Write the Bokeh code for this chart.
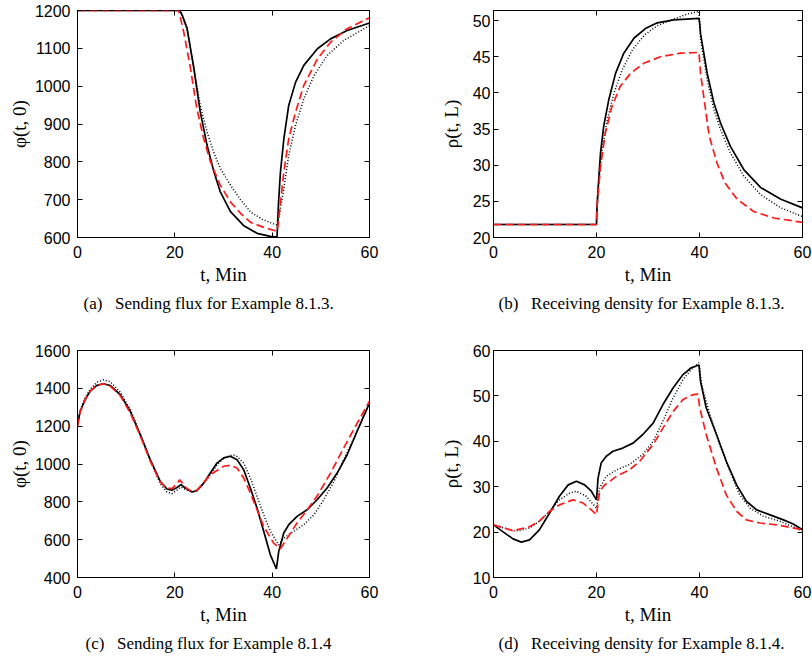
from bokeh.plotting import figure
from bokeh.models import Range1d, FixedTicker, LinearAxis, Title
from bokeh.layouts import column, row
from bokeh.embed import file_html
from bokeh.resources import INLINE

# ---------------- data ----------------
x_ticks = [0, 20, 40, 60]

# (a) Sending flux, Example 8.1.3
a_solid_t = [0, 21, 21.6, 22.5, 23.9, 25.2, 26.6, 28, 29.3, 31.4, 34.1, 36.9, 39.6, 41, 41.3, 41.7, 42.4, 43.4, 44.8, 46.5, 49.3, 52, 55.4, 60]
a_solid_v = [1200, 1200, 1185, 1154, 1048, 934, 845, 775, 722, 669, 632, 611, 603, 601, 690, 773, 861, 949, 1010, 1055, 1099, 1125, 1147, 1167]
a_dot_t = [0, 21.2, 22.5, 23.9, 25.2, 26.6, 28, 29.3, 31.5, 33.5, 35.6, 38, 40.3, 41, 41.2, 42.4, 43.4, 44.8, 46.5, 48.6, 51.3, 54.7, 60]
a_dot_v = [1200, 1200, 1150, 1050, 950, 880, 825, 784, 737, 700, 667, 648, 636, 633, 640, 729, 817, 896, 967, 1028, 1081, 1121, 1160]
a_dash_t = [0, 20.8, 21.8, 23.2, 24.5, 25.9, 27.3, 29.3, 31.5, 33.5, 35.6, 38, 40.3, 41, 41.2, 42.4, 43.4, 44.8, 46.5, 49.3, 52, 55.4, 60]
a_dash_v = [1200, 1200, 1145, 1048, 942, 863, 801, 739, 693, 664, 640, 628, 619, 616, 632, 773, 861, 931, 1002, 1072, 1116, 1152, 1181]
a_y_ticks = [600, 700, 800, 900, 1000, 1100, 1200]

# (b) Receiving density, Example 8.1.3
b_solid_t = [0, 20, 20.05, 20.26, 20.78, 21.4, 22.4, 23.7, 25.3, 27.3, 29.5, 31.8, 35, 39.9, 40.05, 40.2, 41.5, 42.8, 44.1, 46, 48.6, 51.9, 55.8, 60]
b_solid_v = [21.8, 21.8, 23.5, 26.2, 31.7, 35.4, 39.1, 42.7, 45.5, 47.6, 48.9, 49.7, 50.1, 50.3, 49.5, 48.2, 42.7, 38.6, 35.8, 32.6, 29.4, 26.9, 25.3, 24.1]
b_dot_t = [0, 20, 20.26, 21.1, 22.1, 23.4, 25, 27, 29.3, 31.8, 35, 37.6, 39.9, 40.05, 40.2, 41.5, 42.8, 44.1, 46, 48.6, 51.9, 55.8, 60]
b_dot_v = [21.8, 21.8, 26.2, 32.2, 36.3, 40, 43.2, 46, 48, 49.3, 50.2, 50.9, 51.3, 49.5, 47.5, 41.8, 37.7, 34.9, 31.7, 28.5, 25.9, 24.1, 22.9]
b_dash_t = [0, 20, 20.1, 20.78, 21.7, 23, 24.6, 26.6, 29.2, 32.4, 36.3, 39.9, 40.2, 41.1, 41.7, 42.1, 43.4, 45, 47.3, 50.5, 54.4, 60]
b_dash_v = [21.8, 21.8, 24.3, 29.8, 34.4, 38.1, 40.9, 42.7, 44.1, 45, 45.5, 45.6, 42.7, 38.1, 34.9, 33.5, 30.3, 27.5, 25.3, 23.6, 22.7, 22.1]
b_y_ticks = [20, 25, 30, 35, 40, 45, 50]

# (c) Sending flux, Example 8.1.4
c_solid_t = [0, 0.55, 1.58, 2.61, 3.98, 5.35, 6.72, 8.78, 10.83, 12.89, 14.95, 17.0, 18.38, 19.4, 20.43, 21.26, 22.15, 23.52, 24.55, 25.92, 27.29, 28.66, 30.03, 31.41, 32.78, 34.15, 35.52, 36.89, 38.26, 39.63, 40.87, 41.35, 42.38, 43.41, 45.12, 47.18, 49.23, 51.29, 53.35, 55.41, 57.46, 60]
c_solid_v = [1208, 1279, 1341, 1385, 1416, 1424, 1415, 1367, 1279, 1155, 1023, 908, 868, 861, 876, 891, 873, 852, 859, 899, 952, 1005, 1032, 1041, 1023, 970, 873, 767, 644, 520, 446, 538, 635, 679, 723, 758, 811, 873, 952, 1049, 1173, 1323]
c_dot_t = [0, 0.55, 1.58, 2.61, 3.98, 5.35, 6.72, 8.78, 10.83, 12.89, 14.95, 17.0, 18.38, 19.4, 20.43, 21.26, 22.15, 23.52, 24.55, 25.92, 27.29, 28.66, 30.03, 31.41, 32.1, 32.78, 34.15, 35.52, 36.89, 38.26, 39.63, 41.35, 42.38, 44.4, 46.5, 48.6, 50.6, 52.7, 54.7, 56.8, 60]
c_dot_v = [1208, 1285, 1350, 1395, 1432, 1445, 1435, 1380, 1290, 1160, 1020, 895, 852, 843, 862, 878, 866, 853, 860, 895, 945, 995, 1030, 1045, 1046, 1040, 1005, 926, 829, 732, 644, 573, 608, 644, 679, 732, 811, 908, 1023, 1138, 1323]
c_dash_t = [0, 0.55, 1.58, 2.61, 3.98, 5.35, 6.72, 8.78, 10.83, 12.89, 14.95, 17.0, 18.38, 19.4, 20.43, 21.0, 21.8, 22.5, 23.52, 24.55, 25.92, 27.29, 30.03, 31.41, 32.78, 34.15, 35.52, 36.89, 38.26, 40.3, 41.7, 43.1, 45.1, 47.2, 49.2, 52.0, 54.7, 57.5, 60]
c_dash_v = [1200, 1275, 1340, 1385, 1415, 1424, 1412, 1362, 1270, 1150, 1015, 905, 873, 870, 895, 917, 890, 870, 855, 862, 900, 944, 988, 993, 979, 926, 847, 758, 670, 582, 552, 608, 688, 758, 829, 952, 1085, 1217, 1332]
c_y_ticks = [400, 600, 800, 1000, 1200, 1400, 1600]

# (d) Receiving density, Example 8.1.4
d_solid_t = [0, 1.8, 3.8, 5.4, 7.0, 8.9, 10.9, 12.8, 14.5, 16.1, 17.7, 19.0, 20.0, 20.3, 20.9, 21.9, 23.2, 25.1, 27.1, 29.0, 31.0, 32.9, 34.9, 36.8, 38.4, 39.9, 40.2, 41.3, 43.3, 45.2, 47.2, 49.1, 51.1, 53.7, 56.3, 58.2, 60]
d_solid_v = [21.6, 20.1, 18.5, 17.8, 18.3, 20.5, 24.2, 27.9, 30.4, 31.2, 30.4, 29.0, 27.1, 31.9, 35.2, 36.7, 37.8, 38.5, 39.6, 41.5, 44.0, 48.1, 51.8, 54.7, 56.2, 56.8, 53.2, 47.4, 41.5, 35.6, 30.4, 26.8, 24.9, 23.8, 22.7, 21.8, 20.5]
d_dot_t = [0, 3.8, 5.0, 7.0, 8.9, 10.9, 12.8, 14.8, 16.1, 18.0, 20.0, 20.6, 21.9, 23.9, 26.4, 29.0, 31.0, 32.9, 34.9, 36.8, 38.4, 39.9, 40.4, 42.0, 43.9, 45.9, 47.8, 49.8, 52.4, 55.6, 60]
d_dot_v = [21.6, 20.3, 20.3, 20.9, 22.4, 24.6, 27.1, 28.6, 29.0, 27.9, 25.3, 29.7, 32.3, 33.7, 34.9, 37.1, 40.0, 44.4, 49.6, 53.6, 55.8, 57.3, 52.5, 45.9, 39.3, 33.4, 28.2, 25.3, 23.5, 22.4, 20.3]
d_dash_t = [0, 3.8, 7.0, 8.9, 10.9, 12.8, 15.4, 17.4, 19.0, 20.0, 20.6, 21.6, 23.9, 26.4, 28.4, 31.0, 32.9, 34.9, 36.8, 38.8, 39.7, 40.05, 41.3, 43.3, 45.2, 47.2, 49.1, 51.7, 55.0, 60]
d_dash_v = [21.6, 20.3, 21.2, 22.4, 24.6, 26.0, 27.1, 26.4, 24.9, 23.8, 29.0, 30.4, 32.3, 33.7, 35.6, 39.3, 42.9, 46.6, 49.2, 50.3, 50.4, 47.4, 41.5, 34.1, 28.2, 24.6, 22.7, 22.0, 21.6, 20.5]
d_y_ticks = [10, 20, 30, 40, 50, 60]

captions = [
    "(a)\u2002 Sending flux for Example 8.1.3.",
    "(b)\u2002 Receiving density for Example 8.1.3.",
    "(c)\u2002 Sending flux for Example 8.1.4",
    "(d)\u2002 Receiving density for Example 8.1.4.",
]
y_labels = ["\u03c6(t, 0)", "\u03c1(t, L)", "\u03c6(t, 0)", "\u03c1(t, L)"]
x_label = "t, Min"

SANS = "Liberation Sans"
SERIF = "Liberation Serif"


def make_fig(series, yr, yticks, ylabel, caption, left, right, top, bottom,
             ystand, ylab_stand, cap_off):
    p = figure(width=406, height=330, output_backend="svg", toolbar_location=None,
               x_range=Range1d(0, 60), y_range=Range1d(*yr),
               min_border_left=left, min_border_right=right,
               min_border_top=top, min_border_bottom=bottom)
    p.grid.visible = False
    p.outline_line_color = "black"
    p.outline_line_width = 1
    p.background_fill_color = "white"
    p.border_fill_color = "white"

    for ax in (p.xaxis[0], p.yaxis[0]):
        ax.major_tick_in = 5
        ax.major_tick_out = 0
        ax.minor_tick_line_color = None
        ax.major_label_text_font = SANS
        ax.major_label_text_font_size = "16px"
        ax.major_label_text_color = "black"
        ax.axis_line_color = "black"
        ax.major_tick_line_color = "black"
        ax.axis_label_text_font = SERIF
        ax.axis_label_text_font_style = "normal"
        ax.axis_label_text_font_size = "19px"
        ax.axis_label_text_color = "black"
    p.xaxis.ticker = FixedTicker(ticks=x_ticks)
    p.yaxis.ticker = FixedTicker(ticks=yticks)
    p.xaxis.major_label_standoff = 8
    p.xaxis.axis_label = x_label
    p.xaxis.axis_label_standoff = 3
    p.yaxis.major_label_standoff = ystand
    p.yaxis.axis_label = ylabel
    p.yaxis.axis_label_standoff = ylab_stand

    # tick marks on the opposite sides (box with inward ticks), no labels
    for loc, tk in (("right", yticks), ("above", x_ticks)):
        ax = LinearAxis(ticker=FixedTicker(ticks=tk))
        ax.major_tick_in = 5
        ax.major_tick_out = 0
        ax.minor_tick_line_color = None
        ax.major_label_text_color = None
        ax.major_label_text_font_size = "8px"
        ax.major_label_standoff = 0
        ax.axis_line_color = None
        ax.major_tick_line_color = "black"
        p.add_layout(ax, loc)

    (st, sv), (dt, dv), (ht, hv) = series
    p.line(st, sv, line_color="black", line_width=1.7)
    p.line(dt, dv, line_color="black", line_width=1.5, line_dash="1 2")
    p.line(ht, hv, line_color="#ff1a1a", line_width=1.7, line_dash="8 4")

    t = Title(text=caption, align="left", offset=cap_off, text_font=SERIF,
              text_font_size="17px", text_font_style="normal", text_color="black",
              standoff=8)
    p.add_layout(t, "below")
    return p


pa = make_fig([(a_solid_t, a_solid_v), (a_dot_t, a_dot_v), (a_dash_t, a_dash_v)],
              (600, 1200), a_y_ticks, y_labels[0], captions[0], 77, 37, 10, 93, 7, 2, 6)
pb = make_fig([(b_solid_t, b_solid_v), (b_dot_t, b_dot_v), (b_dash_t, b_dash_v)],
              (20, 51.4), b_y_ticks, y_labels[1], captions[1], 87, 10, 10, 93, 3, 8, 5)
pc = make_fig([(c_solid_t, c_solid_v), (c_dot_t, c_dot_v), (c_dash_t, c_dash_v)],
              (400, 1600), c_y_ticks, y_labels[2], captions[2], 77, 37, 19, 83, 7, 2, 8)
pd = make_fig([(d_solid_t, d_solid_v), (d_dot_t, d_dot_v), (d_dash_t, d_dash_v)],
              (10, 60), d_y_ticks, y_labels[3], captions[3], 87, 10, 20, 83, 3, 8, 5)

layout = column(row(pa, pb), row(pc, pd))
open("out.html", "w").write(file_html(layout, INLINE))
